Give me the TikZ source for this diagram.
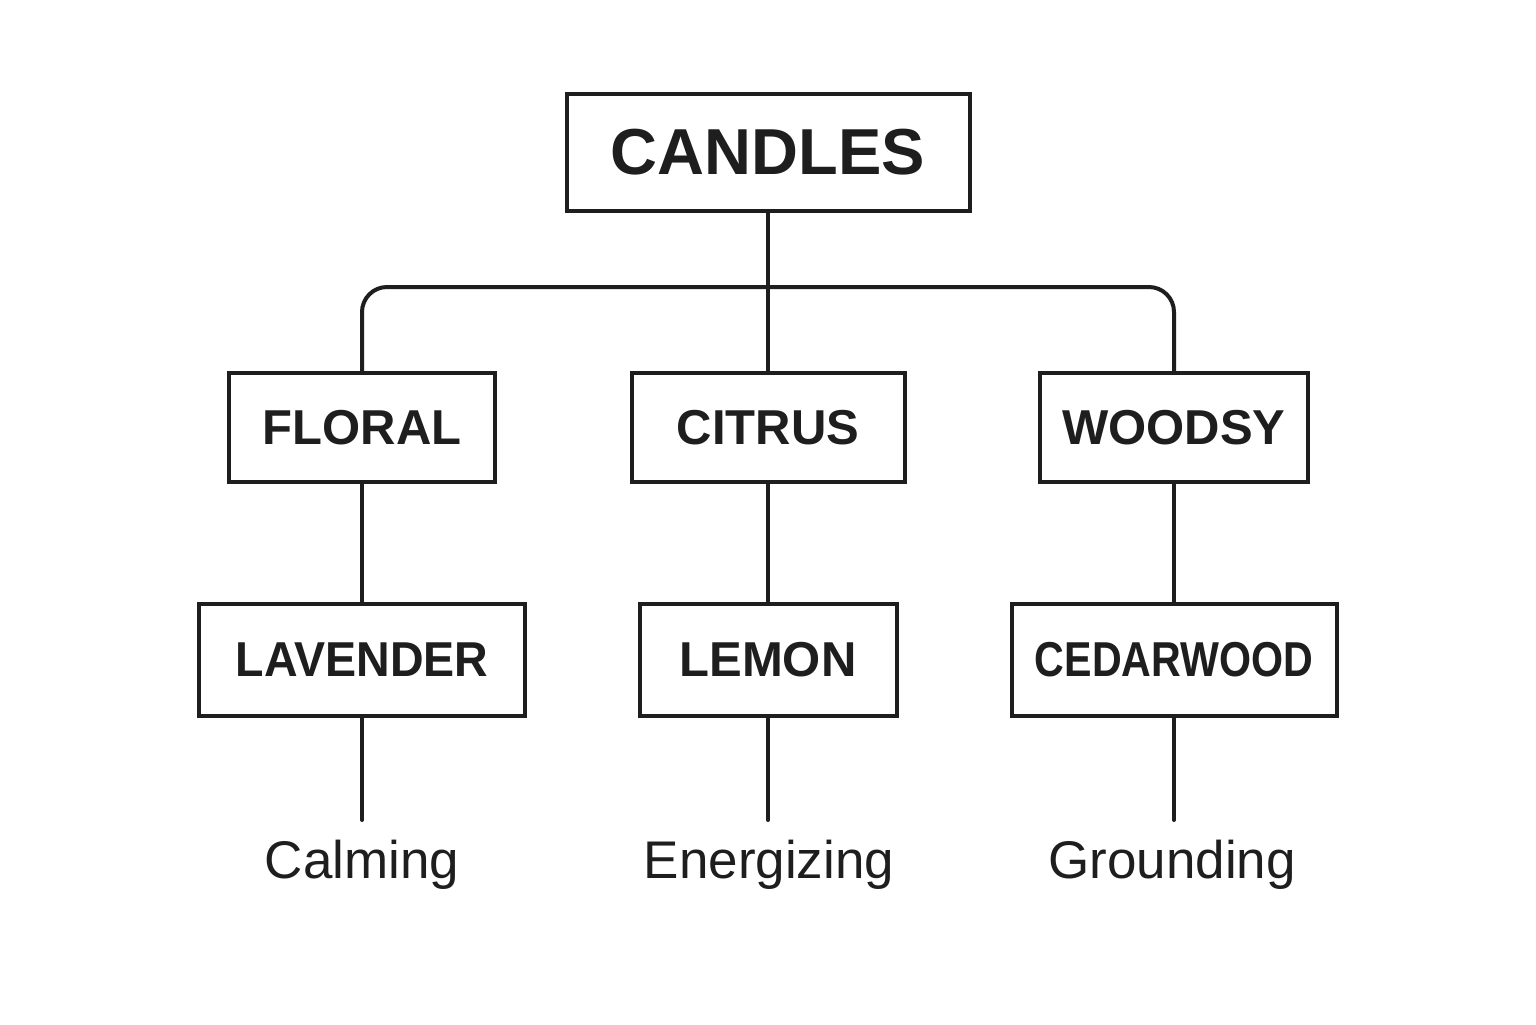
\documentclass[tikz,border=0pt]{standalone}
\usepackage{fontspec}
\setmainfont{Liberation Sans}
\begin{document}
\begin{tikzpicture}[x=0.5pt,y=-0.5pt,
  line width=2pt, draw={rgb,255:red,30;green,30;blue,30},
  box/.style={draw, line width=2pt, inner sep=0pt, text={rgb,255:red,30;green,30;blue,30}, font=\bfseries\fontsize{24.5}{28}\selectfont},
  lbl/.style={anchor=base, inner sep=0pt, text={rgb,255:red,30;green,30;blue,30}, font=\fontsize{26.5}{30}\selectfont},
  conn/.style={line width=2pt, line cap=round}]
\fill[white] (0,0) rectangle (1536,1024);
\useasboundingbox (0,0) rectangle (1536,1024);

\node[box, minimum width=201.5pt, minimum height=58.5pt, font=\bfseries\fontsize{32.5}{38}\selectfont] (candles) at (768,152.5) {CANDLES};

\node[box, minimum width=133pt, minimum height=54.5pt] (floral) at (362,427.5) {FLORAL};
\node[box, minimum width=136.5pt, minimum height=54.5pt] (citrus) at (768,427.5) {CITRUS};
\node[box, minimum width=134pt, minimum height=54.5pt] (woodsy) at (1174,427.5) {WOODSY};

\node[box, minimum width=163pt, minimum height=56pt] (lavender) at (362,660) {\scalebox{0.95}[1]{LAVENDER}};
\node[box, minimum width=128.5pt, minimum height=56pt] (lemon) at (768,660) {LEMON};
\node[box, minimum width=162.5pt, minimum height=56pt] (cedarwood) at (1174,660) {\scalebox{0.84}[1]{CEDARWOOD}};

\coordinate (bar) at (768,287);
\coordinate (e1) at (362,820);
\coordinate (e2) at (768,820);
\coordinate (e3) at (1174,820);

\draw[conn] (candles.south) -- (citrus.north);
\draw[conn, rounded corners=12.5pt] (floral.north) -- (floral.north |- bar) -- (woodsy.north |- bar) -- (woodsy.north);

\draw[conn] (floral.south) -- (lavender.north);
\draw[conn] (citrus.south) -- (lemon.north);
\draw[conn] (woodsy.south) -- (cedarwood.north);

\draw[conn] (lavender.south) -- (e1);
\draw[conn] (lemon.south) -- (e2);
\draw[conn] (cedarwood.south) -- (e3);

\node[lbl] (calming) at (362,878) {Calming};
\node[lbl] (energizing) at (769,878) {Energizing};
\node[lbl] (grounding) at (1172,878) {Grounding};
\end{tikzpicture}
\end{document}
